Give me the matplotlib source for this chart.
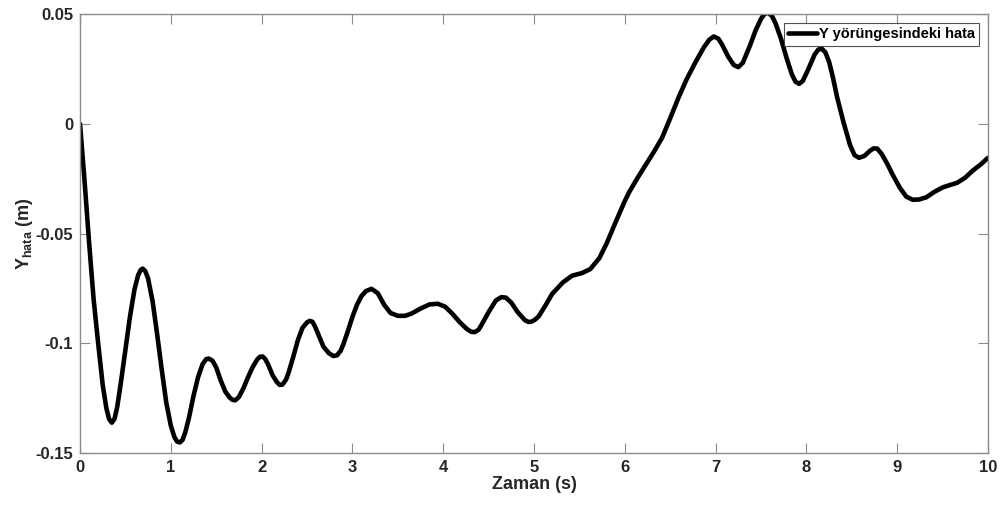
import matplotlib
matplotlib.use('Agg')

import matplotlib.pyplot as plt

# Zaman (s) ve Y yörüngesindeki hata (m)
t = [0.0, 0.05, 0.1, 0.15, 0.2, 0.25, 0.29, 0.32, 0.35,
     0.38, 0.41, 0.45, 0.5, 0.55, 0.6, 0.64, 0.67, 0.69,
     0.72, 0.75, 0.8, 0.85, 0.9, 0.95, 1.0, 1.04, 1.07, 1.1,
     1.13, 1.16, 1.2, 1.25, 1.3, 1.35, 1.39, 1.42,
     1.46, 1.5, 1.55, 1.6, 1.65, 1.68, 1.71,
     1.75, 1.8, 1.85, 1.9, 1.95, 1.98, 2.01,
     2.04, 2.07, 2.12, 2.17, 2.2, 2.23,
     2.27, 2.3, 2.35, 2.4, 2.45, 2.5, 2.53, 2.56,
     2.59, 2.62, 2.68, 2.74, 2.79, 2.83,
     2.87, 2.9, 2.95, 3.0, 3.05, 3.1, 3.15, 3.21,
     3.28, 3.35, 3.42, 3.5, 3.58,
     3.65, 3.75, 3.85, 3.94,
     4.02, 4.1, 4.18, 4.26, 4.31, 4.35,
     4.39, 4.42, 4.5, 4.58, 4.64, 4.69,
     4.75, 4.82, 4.9, 4.94, 4.97,
     5.01, 5.05, 5.12, 5.2, 5.32, 5.42, 5.53, 5.62, 5.72, 5.8, 5.9,
     6.0, 6.05, 6.15, 6.23, 6.32, 6.41, 6.5, 6.59, 6.68, 6.78, 6.87, 6.93, 6.98,
     7.03, 7.07, 7.14, 7.2, 7.25, 7.3, 7.38, 7.44, 7.5, 7.54, 7.58,
     7.62, 7.66, 7.72, 7.78, 7.84, 7.88, 7.92, 7.96, 8.02, 8.09, 8.13, 8.17,
     8.21, 8.25, 8.29, 8.34, 8.41, 8.48, 8.53, 8.58, 8.64, 8.7, 8.74, 8.78,
     8.83, 8.89, 8.95, 9.03, 9.1, 9.17, 9.24, 9.32, 9.41, 9.5,
     9.58, 9.66, 9.75, 9.83, 9.92, 10.0]
y_hata = [0.0, -0.026, -0.054, -0.08, -0.1, -0.119, -0.1295, -0.1345, -0.1362,
          -0.1345, -0.129, -0.118, -0.103, -0.088, -0.0755, -0.069, -0.0665, -0.066,
          -0.0672, -0.0705, -0.081, -0.096, -0.112, -0.127, -0.1375, -0.1428, -0.1448, -0.1452,
          -0.144, -0.1405, -0.134, -0.124, -0.1155, -0.1095, -0.1072, -0.107,
          -0.108, -0.111, -0.117, -0.122, -0.1248, -0.1258, -0.126,
          -0.1245, -0.1205, -0.1155, -0.111, -0.1075, -0.1062, -0.106,
          -0.1072, -0.1095, -0.1145, -0.1178, -0.119, -0.1188,
          -0.1165, -0.113, -0.106, -0.0985, -0.093, -0.0905, -0.0898, -0.0902,
          -0.0925, -0.0955, -0.1015, -0.1045, -0.1058, -0.1055,
          -0.1035, -0.1005, -0.0945, -0.088, -0.0825, -0.0785, -0.0762, -0.0752,
          -0.0772, -0.0825, -0.0862, -0.0875, -0.0875,
          -0.0865, -0.0842, -0.0823, -0.082,
          -0.0833, -0.0865, -0.0903, -0.0935, -0.0948, -0.0949,
          -0.0938, -0.0918, -0.0858, -0.0805, -0.0790, -0.0792,
          -0.0815, -0.0858, -0.0895, -0.0903, -0.0902,
          -0.0893, -0.0878, -0.0832, -0.0775, -0.0722, -0.0692, -0.068, -0.0662, -0.0612, -0.0545, -0.0447,
          -0.0352, -0.031, -0.024, -0.0187, -0.0128, -0.0064, 0.0025, 0.0118, 0.0202, 0.0282, 0.0348, 0.0383, 0.0398,
          0.0388, 0.0362, 0.0305, 0.0268, 0.0258, 0.0278, 0.0358, 0.0425, 0.0478, 0.0502, 0.0505,
          0.0492, 0.0458, 0.0388, 0.0302, 0.0225, 0.0192, 0.0182, 0.0195, 0.0248, 0.0315, 0.0338, 0.0342,
          0.0325, 0.0282, 0.0215, 0.0118, 0.0005, -0.0096, -0.0143, -0.0155, -0.0146, -0.0123, -0.0112, -0.0113,
          -0.0138, -0.0182, -0.0232, -0.0292, -0.0332, -0.0346, -0.0345, -0.0335, -0.031, -0.029,
          -0.0279, -0.0269, -0.0245, -0.0214, -0.0185, -0.0155]

x_ticks = [0, 1, 2, 3, 4, 5, 6, 7, 8, 9, 10]
y_ticks = [-0.15, -0.1, -0.05, 0, 0.05]
y_tick_labels = ['-0.15', '-0.1', '-0.05', '0', '0.05']

plt.rcParams['font.family'] = ['Liberation Sans', 'DejaVu Sans']
plt.rcParams['font.weight'] = 'bold'
plt.rcParams['mathtext.fontset'] = 'custom'
plt.rcParams['mathtext.rm'] = 'Liberation Sans:bold'
plt.rcParams['mathtext.it'] = 'Liberation Sans:bold'

fig = plt.figure(figsize=(10, 5.08), dpi=100)
ax = fig.add_axes([0.08, 0.1083, 0.908, 0.864])

ax.plot(t, y_hata, color='black', linewidth=3.3, solid_joinstyle='round',
        solid_capstyle='round', label='Y yörüngesindeki hata')

ax.set_xlim(0, 10)
ax.set_ylim(-0.15, 0.05)
ax.set_xticks(x_ticks)
ax.set_yticks(y_ticks)
ax.set_yticklabels(y_tick_labels)

eksen = '#8c8c8c'
for s in ax.spines.values():
    s.set_color(eksen)
    s.set_linewidth(1.0)
ax.tick_params(direction='in', top=True, right=True, length=7, width=0.8,
               color=eksen, labelsize=12, labelcolor='#262626', pad=5)
for lbl in ax.get_xticklabels() + ax.get_yticklabels():
    lbl.set_fontweight('bold')

ax.set_xlabel('Zaman (s)', fontsize=13, fontweight='bold', color='#262626', labelpad=1)
ax.set_ylabel(r'Y$_{\rm hata}$ (m)', fontsize=13, fontweight='bold', color='#262626', labelpad=0)

leg = ax.legend(loc='upper right', frameon=True, fancybox=False,
                handlelength=1.95, handletextpad=0.15, borderpad=0.3,
                borderaxespad=0.6, prop={'weight': 'bold', 'size': 10.5})
leg.get_frame().set_edgecolor('#262626')
leg.get_frame().set_linewidth(0.8)

plt.savefig('out.png', dpi=100)
